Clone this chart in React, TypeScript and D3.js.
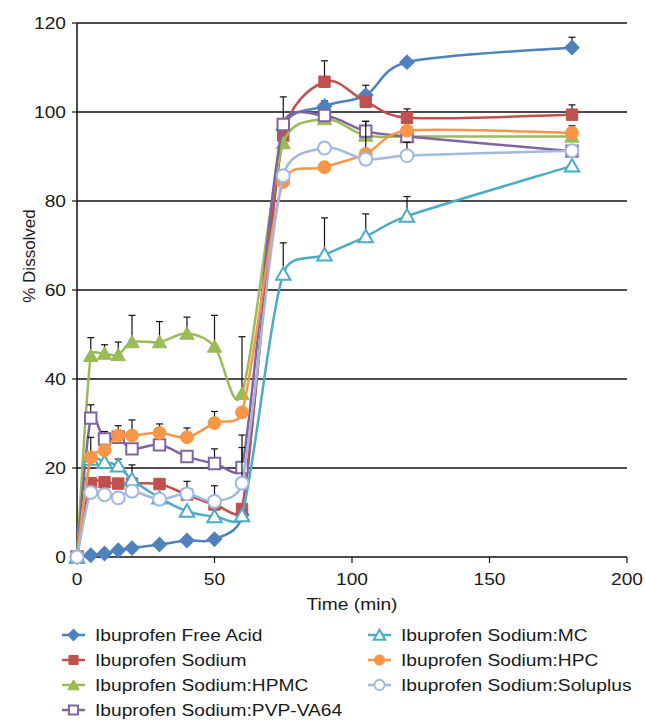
import * as d3 from "d3";
import React from "react";

// time points (min)
const times = [0, 5, 10, 15, 20, 30, 40, 50, 60, 75, 90, 105, 120, 180];

// % dissolved per formulation
const freeAcid = [0, 0.4, 0.8, 1.5, 2.0, 2.8, 3.7, 4.0, 9.5, 96, 101.3, 103.8, 111.2, 114.5];
const sodium = [0, 16.6, 16.8, 16.5, 16.5, 16.4, 14.0, 11.8, 10.8, 94.7, 106.8, 102.3, 98.7, 99.4];
const hpmc = [0, 45.2, 45.7, 45.4, 48.3, 48.3, 50.2, 47.3, 36.7, 93.0, 98.4, 94.7, 94.5, 94.5];
const pvpva = [0, 31.2, 26.5, 26.9, 24.3, 25.2, 22.6, 21.0, 20.1, 97.2, 99.2, 95.7, 94.5, 91.2];
const mc = [0, 22.0, 21.3, 20.5, 17.4, 13.3, 10.3, 9.1, 9.3, 63.6, 67.9, 72.0, 76.6, 87.9];
const hpc = [0, 22.4, 24.0, 27.3, 27.3, 27.9, 26.9, 30.1, 32.5, 84.3, 87.6, 90.6, 95.8, 95.3];
const soluplus = [0, 14.5, 14.0, 13.3, 14.8, 13.0, 14.2, 12.5, 16.6, 85.7, 91.9, 89.4, 90.2, 91.3];

// upper error bars (SD), 0 = none visible
const freeAcidErr = [0, 0, 0, 0, 0, 0, 0, 0, 0, 0, 1.2, 2.2, 0, 2.3];
const sodiumErr = [0, 0, 0, 0, 0, 0, 3.0, 4.2, 0, 8.7, 4.7, 0, 2.0, 2.2];
const hpmcErr = [0, 4.1, 2.0, 2.9, 6.0, 4.6, 3.7, 7.0, 12.8, 0, 0, 0, 0, 0];
const pvpvaErr = [0, 3.0, 1.7, 0, 0, 0, 0, 3.3, 7.3, 0, 0, 2.2, 0, 0];
const mcErr = [0, 0, 0, 1.5, 3.3, 0, 0, 0, 0, 7.0, 8.3, 5.1, 4.4, 0];
const hpcErr = [0, 4.5, 0, 2.2, 3.5, 2.0, 2.1, 2.6, 0, 0, 0, 7.3, 0, 1.6];
const soluplusErr = [0, 0, 0.5, 0.5, 0, 0, 0, 0, 8.0, 1.0, 0.6, 0, 3.0, 0];

const seriesNames = [
  "Ibuprofen Free Acid",
  "Ibuprofen Sodium",
  "Ibuprofen Sodium:HPMC",
  "Ibuprofen Sodium:PVP-VA64",
  "Ibuprofen Sodium:MC",
  "Ibuprofen Sodium:HPC",
  "Ibuprofen Sodium:Soluplus",
];
const seriesValues = [freeAcid, sodium, hpmc, pvpva, mc, hpc, soluplus];
const seriesErrors = [freeAcidErr, sodiumErr, hpmcErr, pvpvaErr, mcErr, hpcErr, soluplusErr];
const colors = ["#4F81BD", "#C0504D", "#9BBB59", "#8064A2", "#4BACC6", "#F79646", "#A2B8DF"];
const shapes = ["diamond", "square", "triangle", "square", "triangle", "circle", "circle"];
const hollow = [false, false, false, true, true, false, true];

const xTicks = [0, 50, 100, 150, 200];
const yTicks = [0, 20, 40, 60, 80, 100, 120];

const W = 646;
const H = 721;
const FONT = "'Liberation Sans', Arial, sans-serif";
const STRETCH = 1.13; // text in the picture is a bit wide

// spreadsheet-style smoothing: catmull-rom tangents, clamped to half the segment
function smoothPath(pts: [number, number][]) {
  const p = d3.path();
  const n = pts.length;
  p.moveTo(pts[0][0], pts[0][1]);
  for (let i = 0; i < n - 1; i++) {
    const p0 = pts[Math.max(i - 1, 0)];
    const p1 = pts[i];
    const p2 = pts[i + 1];
    const p3 = pts[Math.min(i + 2, n - 1)];
    const d12 = Math.hypot(p2[0] - p1[0], p2[1] - p1[1]);
    let t1x = (p2[0] - p0[0]) / 6;
    let t1y = (p2[1] - p0[1]) / 6;
    let t2x = (p3[0] - p1[0]) / 6;
    let t2y = (p3[1] - p1[1]) / 6;
    const l1 = Math.hypot(t1x, t1y);
    const l2 = Math.hypot(t2x, t2y);
    if (l1 > d12 / 2) {
      t1x *= d12 / 2 / l1;
      t1y *= d12 / 2 / l1;
    }
    if (l2 > d12 / 2) {
      t2x *= d12 / 2 / l2;
      t2y *= d12 / 2 / l2;
    }
    p.bezierCurveTo(p1[0] + t1x, p1[1] + t1y, p2[0] - t2x, p2[1] - t2y, p2[0], p2[1]);
  }
  return p.toString();
}

function markerPath(shape: string, big: boolean) {
  const k = big ? 1 : 0.8;
  if (shape === "diamond") return d3.symbol(d3.symbolSquare, 105 * k * k)();
  if (shape === "square") return d3.symbol(d3.symbolSquare, 130 * k * k)();
  if (shape === "triangle") return d3.symbol(d3.symbolTriangle, 90 * k * k)();
  return d3.symbol(d3.symbolCircle, 130 * k * k)();
}

function Marker({ i, x, y, big }: { i: number; x: number; y: number; big: boolean }) {
  const rot = shapes[i] === "diamond" ? " rotate(45)" : "";
  const dy = shapes[i] === "triangle" ? 1.5 : 0;
  return (
    <path
      d={markerPath(shapes[i], big) as string}
      transform={`translate(${x},${y + dy})${rot}`}
      fill={hollow[i] ? "#fff" : colors[i]}
      stroke={colors[i]}
      strokeWidth={hollow[i] ? 2 : 1}
    />
  );
}

function WText({ x, y, anchor, children }: any) {
  return (
    <g transform={`translate(${x},${y}) scale(${STRETCH},1)`}>
      <text textAnchor={anchor} fontFamily={FONT} fontSize={17} fill="#1a1a1a">
        {children}
      </text>
    </g>
  );
}

export default function App() {
  const x = d3.scaleLinear().domain([0, 200]).range([77, 627]);
  const y = d3.scaleLinear().domain([0, 120]).range([557, 23]);

  return (
    <svg width={W} height={H} style={{ position: "absolute", left: 0, top: 0, background: "#fff" }}>
      {/* grid + y ticks */}
      {yTicks.map((t) => (
        <g key={t}>
          {t > 0 && <line x1={x(0)} x2={x(200)} y1={y(t)} y2={y(t)} stroke="#111" strokeWidth={1.5} />}
          <line x1={x(0) - 5} x2={x(0)} y1={y(t)} y2={y(t)} stroke="#111" strokeWidth={1.2} />
          <WText x={66} y={y(t) + 6} anchor="end">
            {t}
          </WText>
        </g>
      ))}
      {/* axes */}
      <line x1={x(0)} x2={x(0)} y1={y(120)} y2={y(0)} stroke="#111" strokeWidth={1.5} />
      <line x1={x(0)} x2={x(200)} y1={y(0)} y2={y(0)} stroke="#111" strokeWidth={1.5} />
      {xTicks.map((t) => (
        <g key={t}>
          <line x1={x(t)} x2={x(t)} y1={y(0)} y2={y(0) + 6} stroke="#111" strokeWidth={1.2} />
          <WText x={x(t)} y={585} anchor="middle">
            {t}
          </WText>
        </g>
      ))}
      <WText x={352} y={610} anchor="middle">
        Time (min)
      </WText>
      <text
        transform={`translate(35,256) rotate(-90)`}
        textAnchor="middle"
        fontFamily={FONT}
        fontSize={17}
        fill="#1a1a1a"
      >
        % Dissolved
      </text>

      {/* series */}
      {seriesValues.map((vals, i) => (
        <g key={i}>
          <path
            d={smoothPath(vals.map((v, j) => [x(times[j]), y(v)] as [number, number]))}
            fill="none"
            stroke={colors[i]}
            strokeWidth={2.5}
          />
          {vals.map((v, j) =>
            seriesErrors[i][j] > 0 ? (
              <g key={j} stroke="#111" strokeWidth={1.2}>
                <line x1={x(times[j])} x2={x(times[j])} y1={y(v)} y2={y(v + seriesErrors[i][j])} />
                <line
                  x1={x(times[j]) - 3.5}
                  x2={x(times[j]) + 3.5}
                  y1={y(v + seriesErrors[i][j])}
                  y2={y(v + seriesErrors[i][j])}
                />
              </g>
            ) : null
          )}
          {vals.map((v, j) => (
            <Marker key={j} i={i} x={x(times[j])} y={y(v)} big={true} />
          ))}
        </g>
      ))}

      {/* legend */}
      {seriesNames.map((name, i) => {
        const col = i < 4 ? 0 : 1;
        const row = i < 4 ? i : i - 4;
        const lx = col === 0 ? 62 : 368;
        const ly = 635 + row * 25;
        return (
          <g key={name}>
            <line x1={lx} x2={lx + 23} y1={ly} y2={ly} stroke={colors[i]} strokeWidth={2.5} />
            <Marker i={i} x={lx + 11.5} y={ly} big={false} />
            <WText x={lx + 33} y={ly + 6} anchor="start">
              {name}
            </WText>
          </g>
        );
      })}
    </svg>
  );
}
